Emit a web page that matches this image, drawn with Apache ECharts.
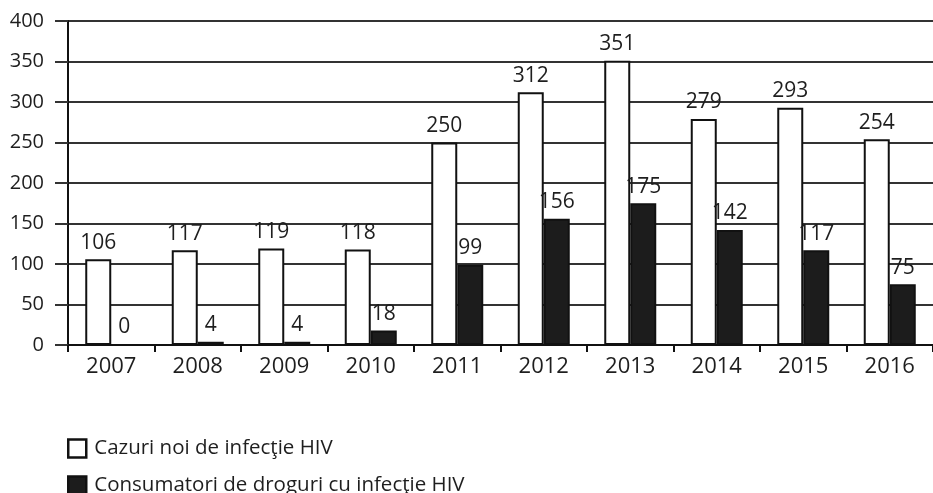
<!DOCTYPE html>
<html>
<head>
<meta charset="utf-8">
<style>
  html, body { margin: 0; padding: 0; background: #ffffff; }
  #chart { width: 933px; height: 493px; }
</style>
<script src="https://cdn.jsdelivr.net/npm/echarts@6/dist/echarts.min.js"></script>
</head>
<body>
<div id="chart"></div>
<script>
// Years on the category axis
const years = ['2007', '2008', '2009', '2010', '2011', '2012', '2013', '2014', '2015', '2016'];
// New HIV infection cases per year
const newCases = [106, 117, 119, 118, 250, 312, 351, 279, 293, 254];
// Drug users among new HIV infections per year
const drugUsers = [0, 4, 4, 18, 99, 156, 175, 142, 117, 75];
// Value axis ticks
const yTicks = [0, 50, 100, 150, 200, 250, 300, 350, 400];

const seriesNames = ['Cazuri noi de infecţie HIV', 'Consumatori de droguri cu infecţie HIV'];

const FONT = '"Open Sans", "Liberation Sans", sans-serif';
const TEXT = '#1e1e1e';
const LINE = '#333333';

const chart = echarts.init(document.getElementById('chart'), null, { renderer: 'canvas' });

const labelStyle = {
  show: true,
  position: 'top',
  distance: 6,
  color: TEXT,
  fontFamily: FONT,
  fontSize: 21
};

// One legend block per row, stacked under the plot
function legendRow(name, top) {
  return {
    orient: 'vertical',
    left: 62,
    top: top,
    itemWidth: 18,
    itemHeight: 18,
    icon: 'rect',
    textStyle: { color: TEXT, fontFamily: FONT, fontSize: 20.5, padding: [0, 0, 0, 3] },
    data: [{ name: name, itemStyle: { borderWidth: 2.5, borderColor: '#111' } }]
  };
}

chart.setOption({
  animation: false,
  backgroundColor: '#ffffff',
  grid: { left: 68, top: 21, width: 870, height: 324, containLabel: false },
  legend: [legendRow(seriesNames[0], 433), legendRow(seriesNames[1], 470)],
  xAxis: {
    type: 'category',
    data: years,
    axisLine: { show: true, lineStyle: { color: '#111', width: 2 } },
    axisTick: { show: true, alignWithLabel: false, length: 7, lineStyle: { color: '#111', width: 2 } },
    axisLabel: { color: TEXT, fontFamily: FONT, fontSize: 22, margin: 11 },
    splitLine: { show: false }
  },
  yAxis: {
    type: 'value',
    min: yTicks[0],
    max: yTicks[yTicks.length - 1],
    interval: yTicks[1] - yTicks[0],
    axisLine: { show: true, lineStyle: { color: '#111', width: 2 } },
    axisTick: { show: true, length: 13, lineStyle: { color: LINE, width: 2 } },
    axisLabel: { color: TEXT, fontFamily: FONT, fontSize: 20, margin: 24 },
    splitLine: { show: true, lineStyle: { color: LINE, width: 2 } }
  },
  series: [
    {
      name: seriesNames[0],
      type: 'bar',
      data: newCases,
      barWidth: 26,
      barGap: '0%',
      itemStyle: { color: '#ffffff', borderColor: '#111', borderWidth: 2 },
      label: labelStyle
    },
    {
      name: seriesNames[1],
      type: 'bar',
      data: drugUsers,
      barWidth: 26,
      barGap: '0%',
      itemStyle: { color: '#1c1c1c', borderColor: '#111', borderWidth: 2 },
      label: labelStyle
    }
  ]
});
</script>
</body>
</html>
